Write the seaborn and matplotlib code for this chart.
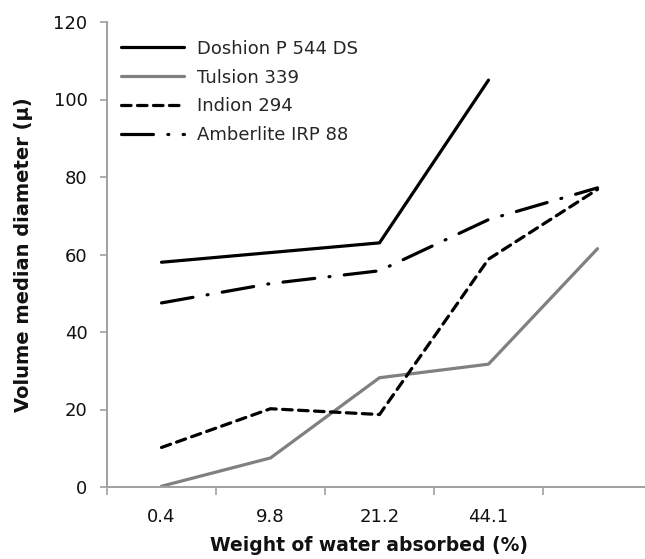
import matplotlib
matplotlib.use("Agg")
import matplotlib.pyplot as plt
import seaborn as sns
import pandas as pd
import numpy as np

categories = ["0.4", "9.8", "21.2", "44.1", ""]
doshion = [58, 60.5, 63, 105, np.nan]
tulsion = [0.2, 7.5, 28.2, 31.7, 61.5]
indion = [10.2, 20.2, 18.7, 58.8, 76.8]
amberlite = [47.5, 52.5, 55.8, 69, 77.2]
series_names = ["Doshion P 544 DS", "Tulsion 339", "Indion 294", "Amberlite IRP 88"]
yticks = [0, 20, 40, 60, 80, 100, 120]

rows = []
for name, vals in zip(series_names, [doshion, tulsion, indion, amberlite]):
    for i, v in enumerate(vals):
        rows.append({"pos": i, "val": v, "series": name})
df = pd.DataFrame(rows)

sns.set_theme(style="white")
plt.rcParams["font.family"] = ["DejaVu Sans"]

fig = plt.figure(figsize=(6.45, 5.59), dpi=100)
ax = fig.add_axes([107/645, 72/559, 545/645, 465/559])

palette = {series_names[0]: "#000000", series_names[1]: "#808080",
           series_names[2]: "#000000", series_names[3]: "#000000"}
dashes = {series_names[0]: "", series_names[1]: "",
          series_names[2]: (3.0, 2.0), series_names[3]: (10, 4.5, 0.3, 4.5)}

sns.lineplot(data=df, x="pos", y="val", hue="series", style="series",
             palette=palette, dashes=dashes, hue_order=series_names,
             style_order=series_names, linewidth=2.3, ax=ax, legend=True,
             sort=False)
for line in ax.get_lines():
    line.set_dash_capstyle("round")
    line.set_solid_capstyle("round")
    line.set_solid_joinstyle("round")

ax.set_xlim(-0.5, 4.5)
ax.set_ylim(0, 120)
ax.set_yticks(yticks)
ax.set_yticklabels([str(t) for t in yticks], fontsize=13)
ax.set_xticks(range(len(categories)))
ax.set_xticklabels(categories, fontsize=13)
ax.set_xticks(np.arange(-0.5, 4.6, 1.0), minor=True)
ax.tick_params(axis="x", which="major", length=0, pad=15, labelcolor="#111111")
ax.tick_params(axis="x", which="minor", bottom=True, length=6, width=1.2, color="#a0a0a0")
ax.tick_params(axis="y", left=True, length=5, width=1.2, color="#a0a0a0", pad=9,
               labelcolor="#111111")

for s in ["top", "right"]:
    ax.spines[s].set_visible(False)
for s in ["left", "bottom"]:
    ax.spines[s].set_color("#a0a0a0")
    ax.spines[s].set_linewidth(1.4)

ax.set_xlabel("Weight of water absorbed (%)", fontsize=13.5, fontweight="bold", color="#111111")
ax.set_ylabel("Volume median diameter (\u03bc)", fontsize=14, fontweight="bold", color="#111111")
ax.xaxis.set_label_coords(0.48, -(536 - 487) / 465)
ax.yaxis.set_label_coords(-(107 - 33) / 545, 0.5)

handles, labels = ax.get_legend_handles_labels()
leg = ax.legend(handles, labels, loc="upper left", bbox_to_anchor=(0.0257, 0.962),
                frameon=False, fontsize=13, handlelength=3.5, handletextpad=0.72,
                labelspacing=0.6, borderpad=0, borderaxespad=0)
for h in leg.get_lines():
    h.set_linewidth(2.3)

fig.savefig("out.png", dpi=100)
